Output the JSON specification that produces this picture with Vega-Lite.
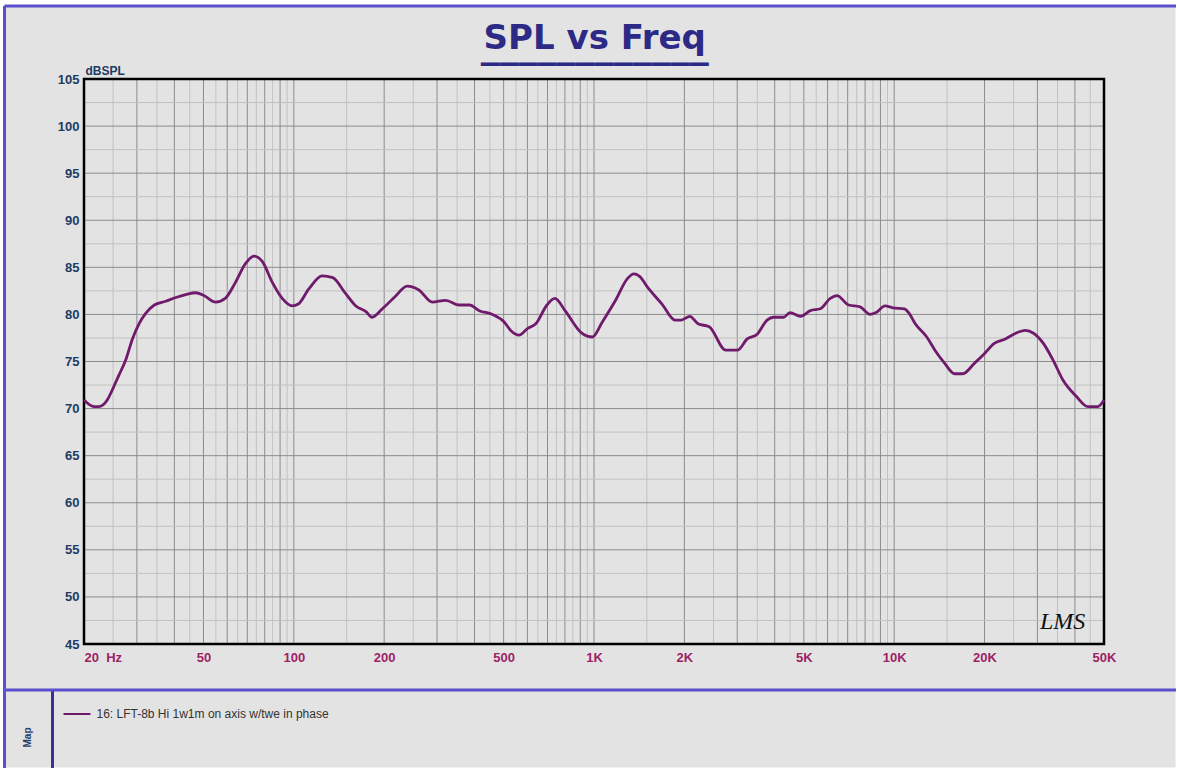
{
  "$schema": "https://vega.github.io/schema/vega-lite/v6.json",
  "background": "#ffffff",
  "padding": {"left": 4, "top": 5.5, "right": 0, "bottom": 0},
  "spacing": 0,
  "datasets": {
    "curve": [
      {"f":20,"db":70.9},{"f":21.6,"db":70.2},{"f":22.4,"db":70.2},{"f":23.9,"db":70.9},{"f":24.7,"db":71.8},{"f":26.1,"db":73.5},{"f":27.5,"db":75.1},{"f":29,"db":77.4},{"f":30.5,"db":79.0},{"f":32.1,"db":80.1},{"f":34.3,"db":81.0},{"f":37.4,"db":81.4},{"f":40.5,"db":81.8},{"f":43.6,"db":82.1},{"f":47.1,"db":82.3},{"f":50.2,"db":82.0},{"f":54.9,"db":81.3},{"f":59.1,"db":81.7},{"f":63.9,"db":83.4},{"f":69,"db":85.4},{"f":73.7,"db":86.2},{"f":78.6,"db":85.6},{"f":84.8,"db":83.4},{"f":91.5,"db":81.7},{"f":98.8,"db":80.9},{"f":103.5,"db":81.1},{"f":112.2,"db":82.7},{"f":124.2,"db":84.1},{"f":134.8,"db":83.9},{"f":148.9,"db":82.2},{"f":161,"db":80.9},{"f":173.9,"db":80.3},{"f":182.2,"db":79.7},{"f":197.3,"db":80.6},{"f":217.7,"db":81.9},{"f":238.5,"db":83.0},{"f":261,"db":82.6},{"f":289.2,"db":81.3},{"f":320.7,"db":81.5},{"f":355.7,"db":81.0},{"f":384.9,"db":81.0},{"f":414.8,"db":80.4},{"f":459,"db":80.0},{"f":502,"db":79.2},{"f":528,"db":78.3},{"f":563,"db":77.8},{"f":600,"db":78.5},{"f":640,"db":79.0},{"f":697,"db":81.0},{"f":741,"db":81.7},{"f":801,"db":80.4},{"f":904,"db":78.1},{"f":988,"db":77.6},{"f":1066,"db":79.2},{"f":1180,"db":81.5},{"f":1292,"db":83.8},{"f":1359,"db":84.3},{"f":1412,"db":84.1},{"f":1523,"db":82.7},{"f":1685,"db":81.1},{"f":1862,"db":79.4},{"f":1954,"db":79.4},{"f":2085,"db":79.8},{"f":2222,"db":79.0},{"f":2419,"db":78.7},{"f":2749,"db":76.2},{"f":3003,"db":76.2},{"f":3240,"db":77.4},{"f":3496,"db":77.9},{"f":3772,"db":79.4},{"f":3966,"db":79.7},{"f":4282,"db":79.7},{"f":4500,"db":80.2},{"f":4873,"db":79.8},{"f":5259,"db":80.4},{"f":5674,"db":80.6},{"f":6124,"db":81.7},{"f":6447,"db":82.0},{"f":7052,"db":81.0},{"f":7698,"db":80.8},{"f":8309,"db":80.0},{"f":8700,"db":80.2},{"f":9321,"db":80.9},{"f":9900,"db":80.7},{"f":10817,"db":80.6},{"f":11219,"db":80.1},{"f":11755,"db":79.0},{"f":12842,"db":77.6},{"f":13670,"db":76.2},{"f":14738,"db":74.8},{"f":15890,"db":73.7},{"f":16925,"db":73.7},{"f":18490,"db":74.8},{"f":19934,"db":75.8},{"f":21490,"db":76.9},{"f":23470,"db":77.4},{"f":25030,"db":77.9},{"f":27350,"db":78.3},{"f":29130,"db":78.0},{"f":31440,"db":76.9},{"f":33890,"db":75.1},{"f":36530,"db":73.0},{"f":40420,"db":71.3},{"f":44190,"db":70.2},{"f":47640,"db":70.2},{"f":50000,"db":70.9}
    ],
    "xgrid": [
      {"f":25},{"f":30},{"f":35},{"f":40},{"f":45},{"f":50},{"f":55},{"f":60},{"f":65},{"f":70},{"f":75},{"f":80},{"f":85},{"f":90},{"f":95},{"f":100},
      {"f":150},{"f":200},{"f":250},{"f":300},{"f":350},{"f":400},{"f":450},{"f":500},{"f":550},{"f":600},{"f":650},{"f":700},{"f":750},{"f":800},{"f":850},{"f":900},{"f":950},{"f":1000},
      {"f":1500},{"f":2000},{"f":2500},{"f":3000},{"f":3500},{"f":4000},{"f":4500},{"f":5000},{"f":5500},{"f":6000},{"f":6500},{"f":7000},{"f":7500},{"f":8000},{"f":8500},{"f":9000},{"f":9500},{"f":10000},
      {"f":15000},{"f":20000},{"f":25000},{"f":30000},{"f":35000},{"f":40000},{"f":45000}
    ],
    "ygrid": [
      {"db":47.5},{"db":50},{"db":52.5},{"db":55},{"db":57.5},{"db":60},{"db":62.5},{"db":65},{"db":67.5},{"db":70},{"db":72.5},{"db":75},{"db":77.5},{"db":80},{"db":82.5},{"db":85},{"db":87.5},{"db":90},{"db":92.5},{"db":95},{"db":97.5},{"db":100},{"db":102.5}
    ],
    "logo": [{"label":"LMS","f":36400,"db":47.3}]
  },
  "vconcat": [
    {
      "width": 1171.5,
      "height": 684,
      "view": {"fill": "#e3e3e3", "stroke": null},
      "title": {
        "text": "SPL vs Freq",
        "subtitle": "____________",
        "anchor": "middle",
        "frame": "group",
        "orient": "top",
        "offset": -59,
        "dx": 5,
        "font": "DejaVu Sans",
        "fontWeight": "bold",
        "fontSize": 34,
        "color": "#2c2a86",
        "subtitleFont": "DejaVu Sans",
        "subtitleFontWeight": "bold",
        "subtitleFontSize": 38,
        "subtitleColor": "#2c2a86",
        "subtitlePadding": -29
      },
      "resolve": {
        "scale": {"x": "independent", "y": "independent"},
        "axis": {"x": "independent", "y": "independent"}
      },
      "layer": [
        {
          "data": {"values": [{"v": 0.5}]},
          "mark": {"type": "point", "opacity": 0, "size": 0},
          "encoding": {
            "x": {
              "field": "v", "type": "quantitative",
              "scale": {"domain": [0, 1], "nice": false, "zero": false},
              "axis": {"orient": "top", "domain": true, "domainColor": "#5a4fcf", "domainWidth": 3, "labels": false, "ticks": false, "grid": false, "title": null}
            },
            "y": {
              "field": "v", "type": "quantitative",
              "scale": {"domain": [0, 1], "nice": false, "zero": false},
              "axis": {"orient": "left", "domain": true, "domainColor": "#5a4fcf", "domainWidth": 3, "labels": false, "ticks": false, "grid": false, "title": null}
            }
          }
        },
        {
          "data": {"name": "xgrid"},
          "mark": {"type": "rule", "strokeWidth": 1},
          "encoding": {
            "x": {"field": "f", "type": "quantitative", "scale": {"type": "log", "domain": [20, 50000], "range": [80, 1100], "nice": false}, "axis": null},
            "y": {"datum": 45, "type": "quantitative", "scale": {"domain": [45, 105], "range": [638.5, 73.5], "nice": false, "zero": false}, "axis": null},
            "y2": {"datum": 105},
            "stroke": {"condition": {"test": "datum.f % (datum.f < 100 ? 10 : datum.f < 1000 ? 100 : datum.f < 10000 ? 1000 : 10000) == 0", "value": "#8c8c8c"}, "value": "#c2c2c2"}
          }
        },
        {
          "data": {"name": "ygrid"},
          "mark": {"type": "rule", "strokeWidth": 1},
          "encoding": {
            "y": {"field": "db", "type": "quantitative", "scale": {"domain": [45, 105], "range": [638.5, 73.5], "nice": false, "zero": false}, "axis": null},
            "x": {"datum": 20, "type": "quantitative", "scale": {"type": "log", "domain": [20, 50000], "range": [80, 1100], "nice": false}, "axis": null},
            "x2": {"datum": 50000},
            "stroke": {"condition": {"test": "datum.db % 5 == 0", "value": "#8c8c8c"}, "value": "#c2c2c2"}
          }
        },
        {
          "data": {"values": [{}]},
          "mark": {"type": "rect", "filled": false, "stroke": "#000000", "strokeWidth": 2.5},
          "encoding": {
            "x": {"datum": 20, "type": "quantitative", "scale": {"type": "log", "domain": [20, 50000], "range": [80, 1100], "nice": false}, "axis": null},
            "x2": {"datum": 50000},
            "y": {"datum": 45, "type": "quantitative", "scale": {"domain": [45, 105], "range": [638.5, 73.5], "nice": false, "zero": false}, "axis": null},
            "y2": {"datum": 105}
          }
        },
        {
          "data": {"name": "curve"},
          "mark": {"type": "line", "strokeWidth": 2.8, "interpolate": "monotone"},
          "encoding": {
            "x": {
              "field": "f", "type": "quantitative",
              "scale": {"type": "log", "domain": [20, 50000], "range": [80, 1100], "nice": false},
              "axis": {
                "orient": "bottom",
                "values": [20, 50, 100, 200, 500, 1000, 2000, 5000, 10000, 20000, 50000],
                "labelExpr": "datum.value == 20 ? '20\u00a0\u00a0Hz' : datum.value >= 1000 ? (datum.value / 1000) + 'K' : '' + datum.value",
                "offset": -45.5,
                "domain": false, "ticks": false, "grid": false, "title": null,
                "labelOverlap": false, "labelFlush": false, "labelBound": false,
                "labelFont": "Liberation Sans", "labelFontWeight": "bold", "labelFontSize": 13,
                "labelColor": "#9e1f66", "labelPadding": 7,
                "labelAlign": {"condition": {"test": "datum.value == 20", "value": "left"}, "value": "center"}
              }
            },
            "y": {
              "field": "db", "type": "quantitative",
              "scale": {"domain": [45, 105], "range": [638.5, 73.5], "nice": false, "zero": false},
              "axis": {
                "orient": "left",
                "values": [45, 50, 55, 60, 65, 70, 75, 80, 85, 90, 95, 100, 105],
                "offset": -80,
                "domain": false, "ticks": false, "grid": false,
                "title": "dBSPL", "titleAngle": 0, "titleAlign": "left", "titleBaseline": "alphabetic",
                "titleX": 1, "titleY": 68.5,
                "titleFont": "Liberation Sans", "titleFontWeight": "bold", "titleFontSize": 12, "titleColor": "#1d3b63",
                "labelFont": "Liberation Sans", "labelFontWeight": "bold", "labelFontSize": 13,
                "labelColor": "#1d3b63", "labelPadding": 5
              }
            },
            "color": {
              "datum": "16: LFT-8b Hi 1w1m on axis w/twe in phase",
              "type": "nominal",
              "scale": {"range": ["#701a6c"]},
              "legend": {
                "orient": "none", "legendX": 58.5, "legendY": 694, "title": null,
                "symbolType": "stroke", "symbolSize": 729, "symbolStrokeWidth": 2,
                "labelFont": "Liberation Sans", "labelFontSize": 12, "labelColor": "#333333",
                "labelOffset": 5, "padding": 0, "labelLimit": 0
              }
            }
          }
        },
        {
          "data": {"name": "logo"},
          "mark": {"type": "text", "font": "Liberation Serif", "fontStyle": "italic", "fontSize": 24, "color": "#111111", "align": "center", "baseline": "middle"},
          "encoding": {
            "x": {"field": "f", "type": "quantitative", "scale": {"type": "log", "domain": [20, 50000], "range": [80, 1100], "nice": false}, "axis": null},
            "y": {"field": "db", "type": "quantitative", "scale": {"domain": [45, 105], "range": [638.5, 73.5], "nice": false, "zero": false}, "axis": null},
            "text": {"field": "label"}
          }
        }
      ]
    },
    {
      "width": 1171.5,
      "height": 78,
      "view": {"fill": "#e3e3e3", "stroke": null},
      "data": {"values": [{"v": 500}]},
      "mark": {"type": "point", "opacity": 0, "size": 0},
      "encoding": {
        "x": {
          "field": "v", "type": "quantitative",
          "scale": {"domain": [0, 1171], "nice": false, "zero": false},
          "axis": {
            "orient": "top",
            "values": [0, 48],
            "domain": true, "domainColor": "#5a4fcf", "domainWidth": 3,
            "ticks": false, "labels": false, "title": null,
            "grid": true, "gridWidth": 3, "gridOpacity": 1,
            "gridColor": {"condition": {"test": "datum.value == 0", "value": "#5a4fcf"}, "value": "#3b2f9e"}
          }
        },
        "y": {
          "field": "v", "type": "quantitative",
          "scale": {"domain": [0, 1000], "nice": false},
          "axis": {
            "domain": false, "ticks": false, "labels": false, "grid": false,
            "title": "Map", "titleAngle": 270, "titleX": 23, "titleY": 47.5,
            "titleAlign": "center", "titleBaseline": "middle",
            "titleFont": "Liberation Sans", "titleFontWeight": "bold", "titleFontSize": 10, "titleColor": "#22406a"
          }
        }
      }
    }
  ]
}
